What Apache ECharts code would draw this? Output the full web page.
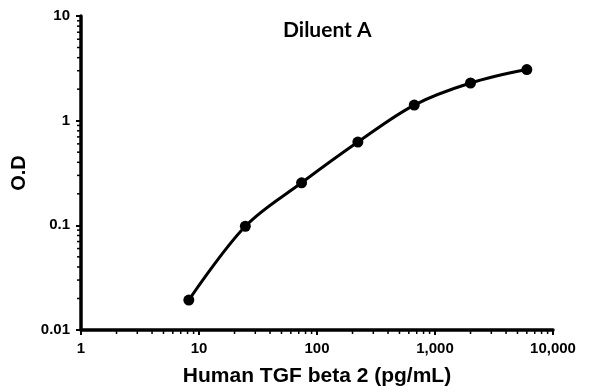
<!DOCTYPE html>
<html><head><meta charset="utf-8">
<script src="https://cdn.jsdelivr.net/npm/echarts@6/dist/echarts.min.js"></script>
<style>html,body{margin:0;padding:0;background:#fff}#c{width:596px;height:392px}</style>
</head><body><div id="c"></div>
<script>
const concentrations = [8.2, 24.7, 74, 222, 667, 2000, 6000];
const odValues = [0.0193, 0.098, 0.255, 0.625, 1.41, 2.29, 3.08];
const titleText = 'Diluent A';
const xName = 'Human TGF beta 2 (pg/mL)';
const yName = 'O.D';
const minorTicksX = [2,3,4,5,6,7,8,9,20,30,40,50,60,70,80,90,200,300,400,500,600,700,800,900,2000,3000,4000,5000,6000,7000,8000,9000];
const minorTicksY = [0.02,0.03,0.04,0.05,0.06,0.07,0.08,0.09,0.2,0.3,0.4,0.5,0.6,0.7,0.8,0.9,2,3,4,5,6,7,8,9];
const xMin = 1, xMax = 10000, yMin = 0.01, yMax = 10;

const chart = echarts.init(document.getElementById('c'));
const font = 'Liberation Sans, Arial, sans-serif';
const labelStyle = { fontFamily: font, fontSize: 15, fontWeight: 'bold', color: '#000' };
chart.setOption({
  animation: false,
  backgroundColor: '#fff',
  title: { text: titleText, left: 278, top: 15,
    textStyle: { fontFamily: 'Lato, Open Sans, sans-serif', fontSize: 21, fontWeight: 'bold', color: '#000' } },
  grid: { left: 81, right: 43, top: 16, bottom: 61 },
  xAxis: {
    type: 'log', logBase: 10, min: xMin, max: xMax,
    name: xName, nameLocation: 'middle', nameGap: 36,
    nameTextStyle: { fontFamily: font, fontSize: 21, fontWeight: 'bold', color: '#000' },
    axisLine: { lineStyle: { color: '#000', width: 3.5 } },
    axisTick: { show: true, inside: false, length: 5, lineStyle: { color: '#000', width: 2 } },
    minorTick: { show: false },
    splitLine: { show: false },
    axisLabel: Object.assign({ margin: 11, formatter: v => Math.round(v).toLocaleString('en-US') }, labelStyle)
  },
  yAxis: {
    type: 'log', logBase: 10, min: yMin, max: yMax,
    name: yName, nameLocation: 'middle', nameGap: 49, nameRotate: 90,
    nameTextStyle: { fontFamily: font, fontSize: 20, fontWeight: 'bold', color: '#000' },
    axisLine: { lineStyle: { color: '#000', width: 3.5 } },
    axisTick: { show: true, length: 5, lineStyle: { color: '#000', width: 2 } },
    minorTick: { show: false },
    splitLine: { show: false },
    axisLabel: Object.assign({ margin: 11, formatter: v => String(+v.toPrecision(2)) }, labelStyle)
  },
  series: [{
    type: 'custom', silent: true, clip: false, z: 1,
    data: minorTicksX.map(v => [v, yMin]),
    renderItem: (params, api) => {
      const p = api.coord([api.value(0), api.value(1)]);
      return { type: 'line', shape: { x1: p[0], y1: p[1], x2: p[0], y2: p[1] + 4 },
        style: { stroke: '#000', lineWidth: 1.5 } };
    }
  }, {
    type: 'custom', silent: true, clip: false, z: 1,
    data: minorTicksY.map(v => [xMin, v]),
    renderItem: (params, api) => {
      const p = api.coord([api.value(0), api.value(1)]);
      return { type: 'line', shape: { x1: p[0], y1: p[1], x2: p[0] - 4, y2: p[1] },
        style: { stroke: '#000', lineWidth: 1.5 } };
    }
  }, {
    type: 'line', smooth: 0.35, z: 3,
    data: concentrations.map((x, i) => [x, odValues[i]]),
    symbol: 'circle', symbolSize: 11,
    lineStyle: { color: '#000', width: 3 },
    itemStyle: { color: '#000' }
  }]
});
</script></body></html>
